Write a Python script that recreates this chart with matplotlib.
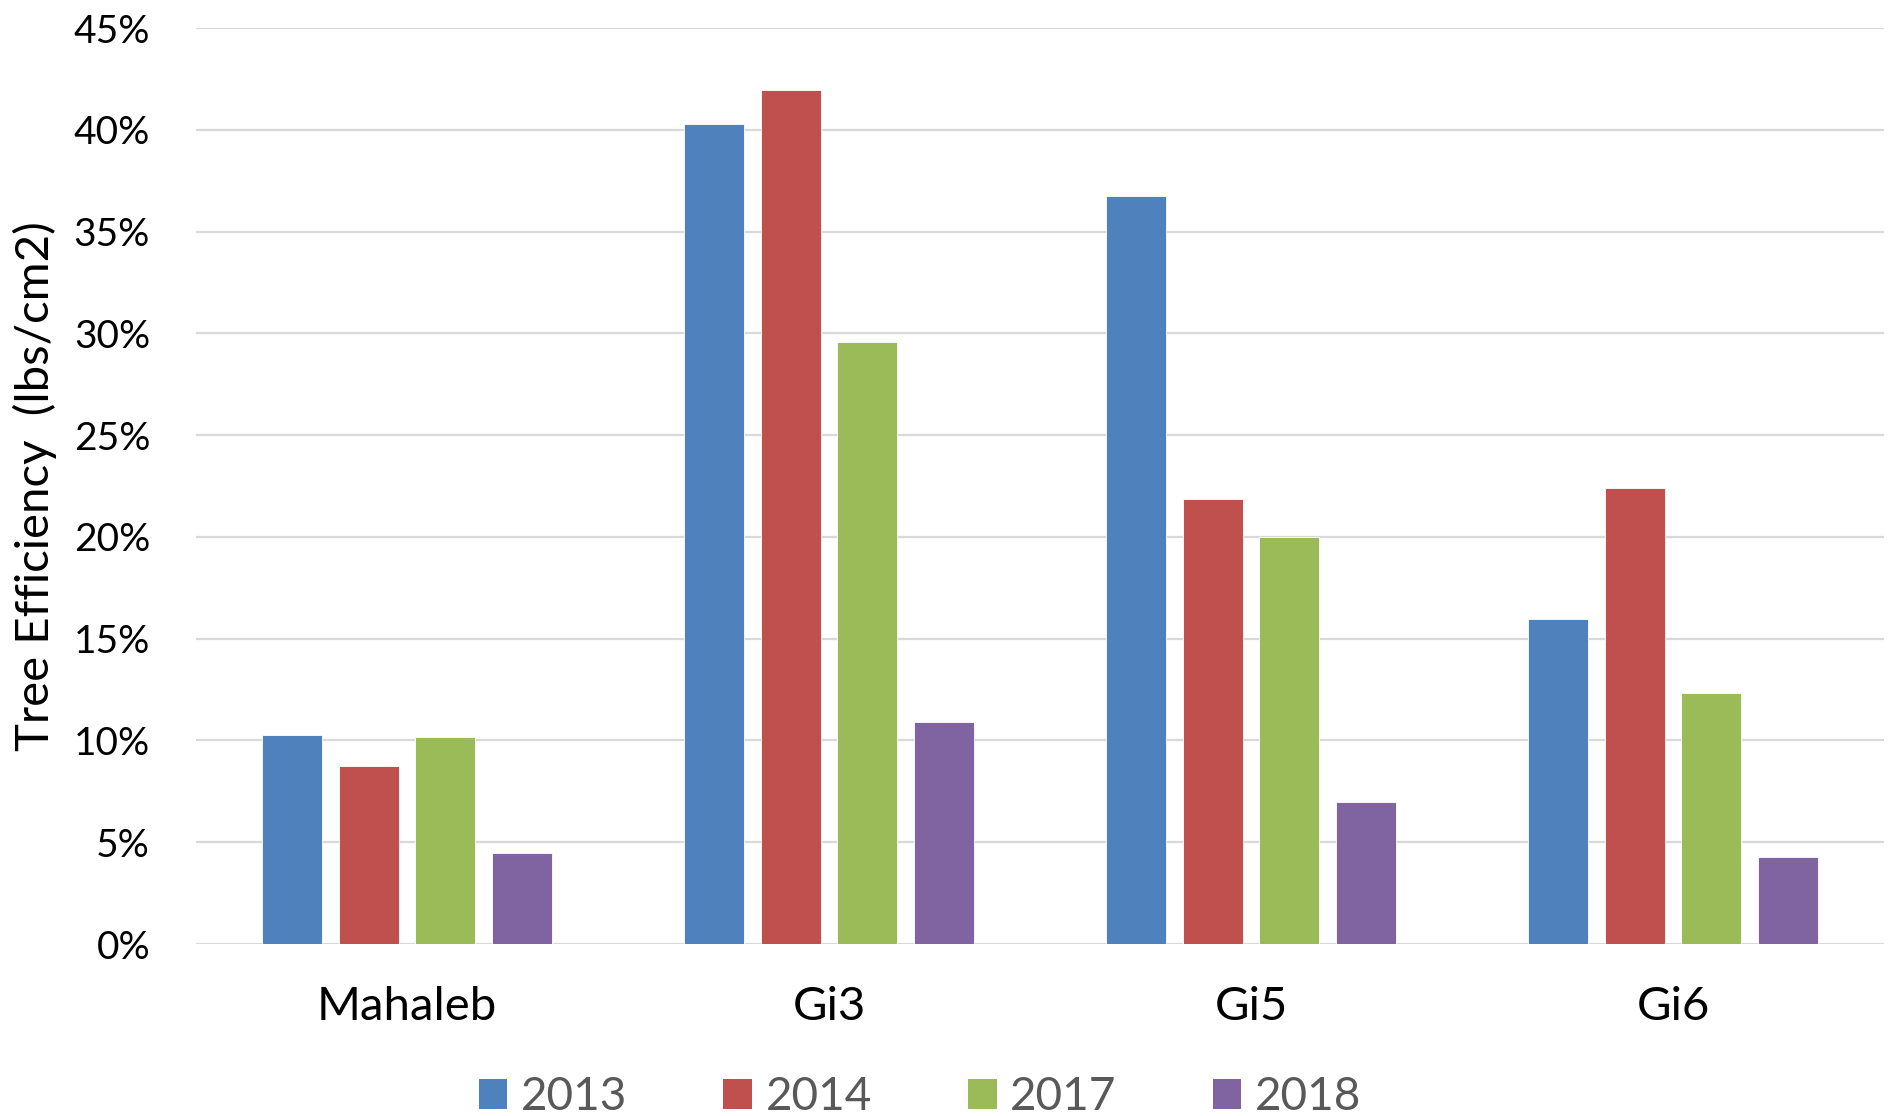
import matplotlib
matplotlib.use("Agg")
import matplotlib.pyplot as plt
import numpy as np
from matplotlib.ticker import FuncFormatter, MultipleLocator
from matplotlib.patches import Patch

plt.rcParams['font.family'] = ['Lato', 'DejaVu Sans']

categories = ["Mahaleb", "Gi3", "Gi5", "Gi6"]
years = ["2013", "2014", "2017", "2018"]
eff_2013 = [0.1027, 0.4030, 0.3674, 0.1596]
eff_2014 = [0.0874, 0.4195, 0.2186, 0.2238]
eff_2017 = [0.1015, 0.2956, 0.1999, 0.1231]
eff_2018 = [0.0447, 0.1090, 0.0697, 0.0426]
series = [eff_2013, eff_2014, eff_2017, eff_2018]
colors = ["#4F81BD", "#C0504D", "#9BBB59", "#8064A2"]

fig = plt.figure(figsize=(18.97, 11.16), dpi=100)
ax = fig.add_axes([0.1033, 0.1541, 0.8898, 0.8208])

x = np.arange(len(categories))
pitch = 0.1815
width = 0.142
for i, (vals, col) in enumerate(zip(series, colors)):
    ax.bar(x + (i - 1.5) * pitch, vals, width=width, color=col,
           edgecolor="white", linewidth=0.6, zorder=3)

ax.set_xlim(-0.5, 3.5)
ax.set_ylim(0, 0.45)
ax.yaxis.set_major_locator(MultipleLocator(0.05))
ax.yaxis.set_major_formatter(FuncFormatter(lambda v, p: f"{v*100:.0f}%"))
ax.grid(axis="y", color="#D9D9D9", linewidth=1.6, zorder=0)
ax.set_axisbelow(True)
for s in ax.spines.values():
    s.set_visible(False)

ax.set_xticks(x)
ax.set_xticklabels(categories)
ax.tick_params(axis="both", length=0, colors="black")
ax.tick_params(axis="y", pad=33, labelsize=28)
ax.tick_params(axis="x", pad=30, labelsize=34)

ax.set_ylabel("Tree Efficiency  (lbs/cm2)", fontsize=34, color="black")
ax.yaxis.set_label_coords(-0.0823, 0.5)

handles = [Patch(facecolor=c, edgecolor="none") for c in colors]
fig.legend(handles, years, loc="center", bbox_to_anchor=(0.485, 0.0166),
           ncol=4, frameon=False, fontsize=33, labelcolor="#595959",
           handlelength=0.62, handleheight=0.62, handletextpad=0.3,
           columnspacing=2.1, borderpad=0, borderaxespad=0)

fig.savefig("out.png", dpi=100)
